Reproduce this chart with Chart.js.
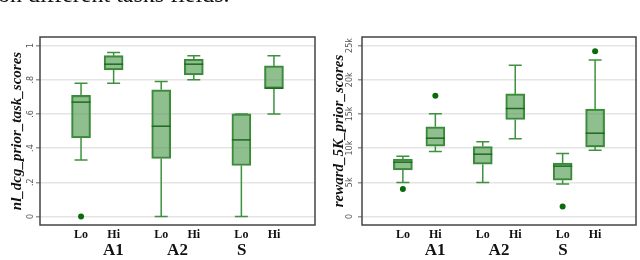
<!DOCTYPE html>
<html><head><meta charset="utf-8">
<script src="https://cdn.jsdelivr.net/npm/chart.js@4"></script>
<style>
body{margin:0;width:640px;height:260px;overflow:hidden;background:#fff;position:relative}
#cap{position:absolute;left:-2px;top:-19px;font:24px/27px "Liberation Serif";white-space:nowrap;color:#111}
.panel{position:absolute;top:0;width:320px;height:260px}
</style></head><body>
<div class="panel" style="left:0"><canvas id="left" width="320" height="260"></canvas></div>
<div class="panel" style="left:320px"><canvas id="right" width="320" height="260"></canvas></div>
<div id="cap">on different tasks fields.</div>
<script>
const groups = ['A1', 'A2', 'S'];
const levels = ['Lo', 'Hi'];

// box order: A1 Lo, A1 Hi, A2 Lo, A2 Hi, S Lo, S Hi
const ndcgMin = [0.33, 0.78, 0, 0.80, 0, 0.60];
const ndcgQ1  = [0.46, 0.858, 0.339, 0.828, 0.298, 0.75];
const ndcgMed = [0.669, 0.891, 0.528, 0.891, 0.448, 0.75];
const ndcgQ3  = [0.708, 0.941, 0.741, 0.92, 0.60, 0.881];
const ndcgMax = [0.78, 0.959, 0.789, 0.941, 0.60, 0.941];
const ndcgOut = [[0, 0]];
const ndcgTicks = [0, 0.2, 0.4, 0.6, 0.8, 1];

const rewMin = [4970, 9500, 4970, 11350, 4730, 9700];
const rewQ1  = [6820, 10280, 7650, 14180, 5310, 10180];
const rewMed = [7940, 11450, 9110, 15790, 7360, 12180];
const rewQ3  = [8380, 13110, 10230, 17930, 7800, 15690];
const rewMax = [8820, 15010, 10920, 22120, 9210, 22900];
const rewOut = [[0, 4000], [1, 17640], [4, 1460], [5, 24170]];
const rewTicks = [0, 5000, 10000, 15000, 20000, 25000];

const groupGap = 2.46;
const pos = [];
groups.forEach((g, gi) => levels.forEach((l, li) => pos.push(gi * groupGap + li)));

const boxPlugin = {
  id: 'boxes',
  afterDatasetsDraw(chart) {
    const s = chart.options.plugins.boxes;
    const ctx = chart.ctx, xs = chart.scales.x, ys = chart.scales.y;
    ctx.save();
    pos.forEach((p, i) => {
      const x = xs.getPixelForValue(p);
      ctx.strokeStyle = '#3f913f';
      ctx.lineWidth = 1.5;
      ctx.beginPath();
      ctx.moveTo(x, ys.getPixelForValue(s.min[i]));
      ctx.lineTo(x, ys.getPixelForValue(s.q1[i]));
      ctx.moveTo(x, ys.getPixelForValue(s.q3[i]));
      ctx.lineTo(x, ys.getPixelForValue(s.max[i]));
      [s.min[i], s.max[i]].forEach(v => {
        const y = ys.getPixelForValue(v);
        ctx.moveTo(x - 6.5, y);
        ctx.lineTo(x + 6.5, y);
      });
      ctx.stroke();
      ctx.strokeStyle = '#1d6a1d';
      ctx.beginPath();
      const ym = ys.getPixelForValue(s.med[i]);
      ctx.moveTo(x - 9.5, ym);
      ctx.lineTo(x + 9.5, ym);
      ctx.stroke();
    });
    const a = chart.chartArea;
    ctx.strokeStyle = '#444';
    ctx.lineWidth = 1.5;
    ctx.strokeRect(a.left, a.top, a.right - a.left, a.bottom - a.top);
    ctx.restore();
  }
};

function makeChart(id, d) {
  new Chart(document.getElementById(id), {
    type: 'bar',
    data: {
      datasets: [{
        data: pos.map((p, i) => ({ x: p, y: [d.q1[i], d.q3[i]] })),
        backgroundColor: 'rgba(75,150,75,0.62)',
        borderColor: '#3a8a3a',
        borderWidth: 1.5,
        borderSkipped: false,
        barThickness: 19
      }, {
        type: 'scatter',
        data: d.out.map(o => ({ x: pos[o[0]], y: o[1] })),
        pointRadius: 3,
        pointBackgroundColor: '#0b6b0b',
        pointBorderWidth: 0
      }]
    },
    options: {
      responsive: false,
      animation: false,
      layout: { padding: { top: 37, right: d.padRight, bottom: 0, left: 0 } },
      plugins: {
        legend: { display: false },
        tooltip: { enabled: false },
        boxes: d
      },
      scales: {
        x: {
          type: 'linear', position: 'bottom',
          min: -0.556, max: 2 * groupGap + 1.556,
          grid: { display: false, drawTicks: false },
          border: { display: false },
          afterBuildTicks: s => { s.ticks = pos.map(v => ({ value: v })); },
          afterFit: s => { s.height = 15; },
          ticks: {
            padding: 3, color: '#111',
            font: { family: 'Liberation Serif', size: 12, weight: 'bold' },
            callback: (v, i) => levels[i % 2]
          }
        },
        x2: {
          type: 'linear', position: 'bottom',
          min: -0.556, max: 2 * groupGap + 1.556,
          grid: { display: false, drawTicks: false },
          border: { display: false },
          afterBuildTicks: s => { s.ticks = groups.map((g, gi) => ({ value: gi * groupGap + 0.5 })); },
          afterFit: s => { s.height = 20; },
          ticks: {
            padding: 0, color: '#111',
            font: { family: 'Liberation Serif', size: 17, weight: 'bold' },
            callback: (v, i) => groups[i]
          }
        },
        y: {
          min: d.ymin, max: d.ymax,
          afterBuildTicks: s => { s.ticks = d.ticks.map(v => ({ value: v })); },
          afterFit: s => { s.width = d.axisWidth; },
          grid: { color: '#e4e4e4', lineWidth: 1.5, tickLength: 4, tickColor: '#999' },
          border: { display: false },
          title: {
            display: true, text: d.title, color: '#111',
            font: { family: 'Liberation Serif', size: 15, weight: 'bold', style: 'italic' },
            padding: { top: d.titlePad, bottom: 0 }
          },
          ticks: {
            minRotation: 90, maxRotation: 90, crossAlign: 'center',
            padding: 1, color: '#555',
            font: { family: 'DejaVu Sans', size: 8 },
            callback: d.fmt
          }
        }
      }
    },
    plugins: [boxPlugin]
  });
}

makeChart('left', {
  min: ndcgMin, q1: ndcgQ1, med: ndcgMed, q3: ndcgQ3, max: ndcgMax, out: ndcgOut,
  ticks: ndcgTicks, ymin: -0.05, ymax: 1.05, axisWidth: 40, padRight: 5, titlePad: 8,
  title: 'nl_dcg_prior_task_scores',
  fmt: v => (v === 0 || v === 1) ? String(v) : String(Math.round(v * 10) / 10).replace('0.', '.')
});
makeChart('right', {
  min: rewMin, q1: rewQ1, med: rewMed, q3: rewQ3, max: rewMax, out: rewOut,
  ticks: rewTicks, ymin: -1250, ymax: 26250, axisWidth: 42, padRight: 2, titlePad: 10,
  title: 'reward_5K_prior_scores',
  fmt: v => v === 0 ? '0' : (v / 1000) + 'k'
});
</script>
</body></html>
